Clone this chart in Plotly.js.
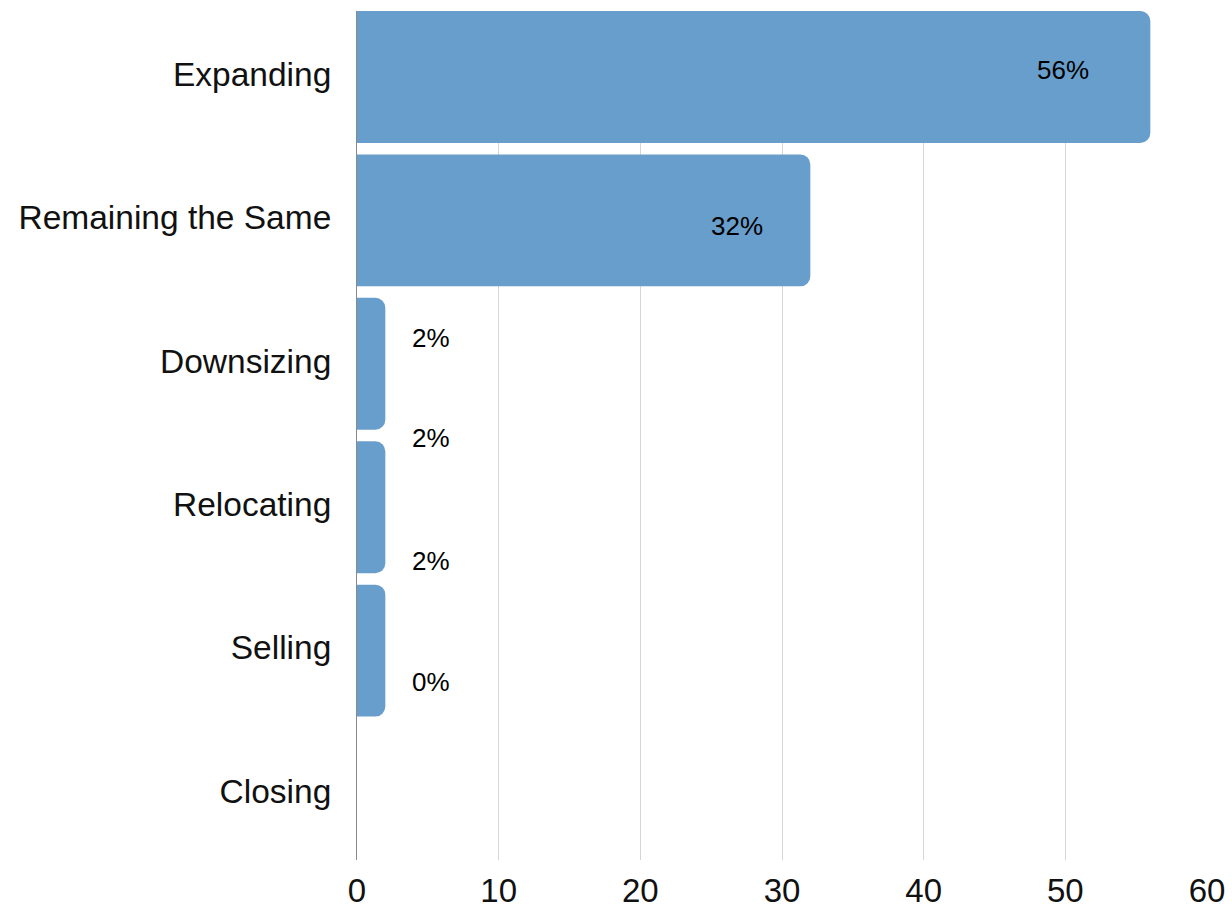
<!DOCTYPE html>
<html>
<head>
<meta charset="utf-8">
<script src="https://cdn.plot.ly/plotly-3.0.1.min.js"></script>
<style>
  html, body { margin: 0; padding: 0; background: #fff; }
  #chart { width: 1232px; height: 909px; }
</style>
</head>
<body>
<div id="chart"></div>
<script>
// Plans for the business over the coming period (share of respondents, %)
const categories = ["Expanding", "Remaining the Same", "Downsizing", "Relocating", "Selling", "Closing"];
const shares = [56, 32, 2, 2, 2, 0];

// Pixel offsets of each value label relative to the end of its bar
const labelDx = [-87, -73, 46, 46, 46, 74];
const labelDy = [7, -6, 26, 69, 90, 112];

const barColor = "#689ecb";

const trace = {
  type: "bar",
  orientation: "h",
  x: shares,
  y: categories,
  marker: { color: barColor, line: { width: 0 } },
  hoverinfo: "skip"
};

const annotations = categories.map((c, i) => ({
  x: shares[i],
  y: c,
  xref: "x",
  yref: "y",
  text: shares[i] + "%",
  showarrow: false,
  xanchor: "center",
  yanchor: "middle",
  xshift: labelDx[i],
  yshift: labelDy[i],
  font: { family: "Liberation Sans, Arial, sans-serif", size: 26, color: "#000" }
}));

const layout = {
  width: 1232,
  height: 909,
  margin: { l: 357, r: 25, t: 11, b: 49 },
  paper_bgcolor: "#fff",
  plot_bgcolor: "#fff",
  showlegend: false,
  bargap: 0.08,
  barcornerradius: 10,
  xaxis: {
    range: [0, 60],
    tickvals: [0, 10, 20, 30, 40, 50, 60],
    showgrid: true,
    gridcolor: "#d6d6d6",
    gridwidth: 1,
    zeroline: false,
    showline: false,
    ticks: "",
    ticklabelstandoff: 8,
    tickfont: { family: "Liberation Sans, Arial, sans-serif", size: 33, color: "#111" },
    fixedrange: true
  },
  yaxis: {
    type: "category",
    categoryorder: "array",
    categoryarray: categories,
    range: [5.46, -0.46],
    showgrid: false,
    zeroline: false,
    showline: true,
    linecolor: "#8a8a8a",
    linewidth: 1,
    ticks: "",
    ticklabelstandoff: 18,
    ticklabelshift: 3,
    tickfont: { family: "Liberation Sans, Arial, sans-serif", size: 33.5, color: "#111" },
    fixedrange: true
  },
  annotations: annotations
};

Plotly.newPlot("chart", [trace], layout, { displayModeBar: false, staticPlot: true });
</script>
</body>
</html>
